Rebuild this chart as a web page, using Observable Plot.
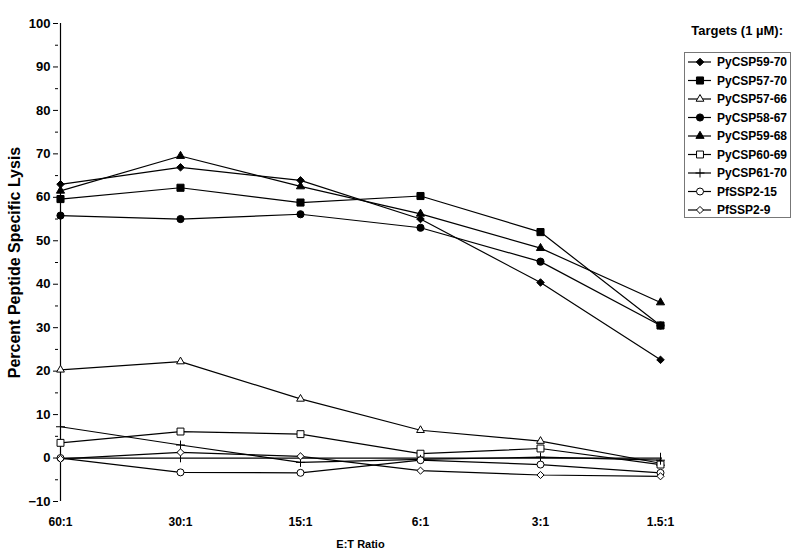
<!DOCTYPE html>
<html>
<head>
<meta charset="utf-8">
<script src="https://cdn.jsdelivr.net/npm/d3@7"></script>
<script src="https://cdn.jsdelivr.net/npm/@observablehq/plot@0.6"></script>
<style>
  body { margin: 0; background: white; }
  #wrap { position: relative; width: 800px; height: 555px; font-family: "Liberation Sans", Arial, sans-serif; }
  #legend-title { position: absolute; top: 23px; left: 600px; width: 183px; text-align: right; font-weight: bold; font-size: 13px; }
  #legend { position: absolute; left: 684px; top: 52px; }
</style>
</head>
<body>
<div id="wrap">
  <div id="chart"></div>
  <div id="legend-title">Targets (1 µM):</div>
  <div id="legend"></div>
</div>
<script>
const ratios = ["60:1", "30:1", "15:1", "6:1", "3:1", "1.5:1"];
const seriesNames = ["PyCSP59-70", "PyCSP57-70", "PyCSP57-66", "PyCSP58-67", "PyCSP59-68", "PyCSP60-69", "PyCSP61-70", "PfSSP2-15", "PfSSP2-9"];
const pyCSP59_70 = [63.0, 66.9, 63.9, 55.0, 40.4, 22.6];
const pyCSP57_70 = [59.6, 62.2, 58.8, 60.3, 52.0, 30.5];
const pyCSP57_66 = [20.3, 22.2, 13.6, 6.4, 3.9, -1.2];
const pyCSP58_67 = [55.8, 55.0, 56.1, 53.0, 45.2, 30.5];
const pyCSP59_68 = [61.5, 69.5, 62.5, 56.2, 48.3, 35.8];
const pyCSP60_69 = [3.5, 6.1, 5.5, 1.0, 2.2, -1.5];
const pyCSP61_70 = [7.2, 3.0, -1.0, -0.3, 0.2, -0.5];
const pfSSP2_15 = [0.0, -3.3, -3.4, -0.5, -1.5, -3.4];
const pfSSP2_9 = [-0.2, 1.3, 0.4, -2.9, -3.9, -4.2];
const seriesValues = [pyCSP59_70, pyCSP57_70, pyCSP57_66, pyCSP58_67, pyCSP59_68, pyCSP60_69, pyCSP61_70, pfSSP2_15, pfSSP2_9];
const yMajorTicks = d3.range(-10, 101, 10);
const yMinorTicks = d3.range(-5, 100, 10);

// marker styles per series
const styles = {
  "PyCSP59-70": {symbol: "diamond2", d3sym: d3.symbolDiamond2, fill: "black", r: 3.4},
  "PyCSP57-70": {symbol: "square", d3sym: d3.symbolSquare, fill: "black", r: 4.0},
  "PyCSP57-66": {symbol: "triangle2", d3sym: d3.symbolTriangle2, fill: "white", r: 3.7},
  "PyCSP58-67": {symbol: "circle", d3sym: d3.symbolCircle, fill: "black", r: 3.6},
  "PyCSP59-68": {symbol: "triangle2", d3sym: d3.symbolTriangle2, fill: "black", r: 3.9},
  "PyCSP60-69": {symbol: "square", d3sym: d3.symbolSquare, fill: "white", r: 3.9},
  "PyCSP61-70": {symbol: "plus", d3sym: d3.symbolPlus, fill: "none", r: 3.0},
  "PfSSP2-15": {symbol: "circle", d3sym: d3.symbolCircle, fill: "white", r: 3.5},
  "PfSSP2-9": {symbol: "diamond2", d3sym: d3.symbolDiamond2, fill: "white", r: 3.2}
};

const rows = [];
seriesNames.forEach((s, i) => ratios.forEach((r, j) => rows.push({series: s, ratio: r, value: seriesValues[i][j]})));

const font = "'Liberation Sans', Arial, sans-serif";

const dots = seriesNames.map(s => Plot.dot(rows.filter(d => d.series === s), {
  x: "ratio", y: "value", symbol: () => styles[s].symbol, r: styles[s].r,
  fill: styles[s].fill, stroke: "black", strokeWidth: 1
}));

const chart = Plot.plot({
  width: 800,
  height: 555,
  marginLeft: 58,
  marginRight: 138,
  marginTop: 23,
  marginBottom: 54,
  x: {type: "point", domain: ratios, padding: 0, axis: null},
  y: {domain: [-10, 100], axis: null},
  symbol: {type: "identity"},
  style: {fontFamily: font, fontWeight: "bold", background: "white", color: "black"},
  marks: [
    Plot.ruleX([ratios[0]], {stroke: "black", strokeWidth: 1.2}),
    Plot.axisY({ticks: yMinorTicks, tickSize: 3, tickFormat: () => "", label: null}),
    Plot.axisY({ticks: yMajorTicks, tickSize: 5, tickPadding: 3, fontSize: 13, label: null}),
    Plot.axisX({tickSize: 0, tickPadding: 16, fontSize: 12, label: null}),
    Plot.ruleY([0], {stroke: "black", strokeWidth: 1.2}),
    Plot.ruleX(ratios, {y1: -1.1, y2: 1.1, stroke: "black"}),
    Plot.line(rows, {x: "ratio", y: "value", z: "series", stroke: "black", strokeWidth: 1.2}),
    ...dots,
    Plot.text(["Percent Peptide Specific Lysis"], {text: d => d, frameAnchor: "left", dx: -44, rotate: -90, textAnchor: "middle", fontSize: 16}),
    Plot.text(["E:T Ratio"], {text: d => d, frameAnchor: "bottom", dy: 46, fontSize: 11})
  ]
});
document.getElementById("chart").appendChild(chart);

// legend
const rowH = 18.5, lw = 107, lh = 166;
const lsvg = d3.select("#legend").append("svg").attr("width", lw).attr("height", lh);
lsvg.append("rect").attr("x", 0.5).attr("y", 0.5).attr("width", lw - 1).attr("height", lh - 1)
  .attr("fill", "white").attr("stroke", "#777");
seriesNames.forEach((s, i) => {
  const g = lsvg.append("g").attr("transform", `translate(0,${10 + i * rowH})`);
  g.append("line").attr("x1", 4).attr("x2", 27).attr("stroke", "black").attr("stroke-width", 1.2);
  const st = styles[s];
  g.append("path").attr("transform", "translate(16,0)")
    .attr("d", d3.symbol(st.d3sym, Math.PI * st.r * st.r)())
    .attr("fill", st.fill).attr("stroke", "black").attr("stroke-width", 1);
  g.append("text").attr("x", 33).attr("dy", "0.35em").attr("font-family", font)
    .attr("font-weight", "bold").attr("font-size", 12).text(s);
});
</script>
</body>
</html>
